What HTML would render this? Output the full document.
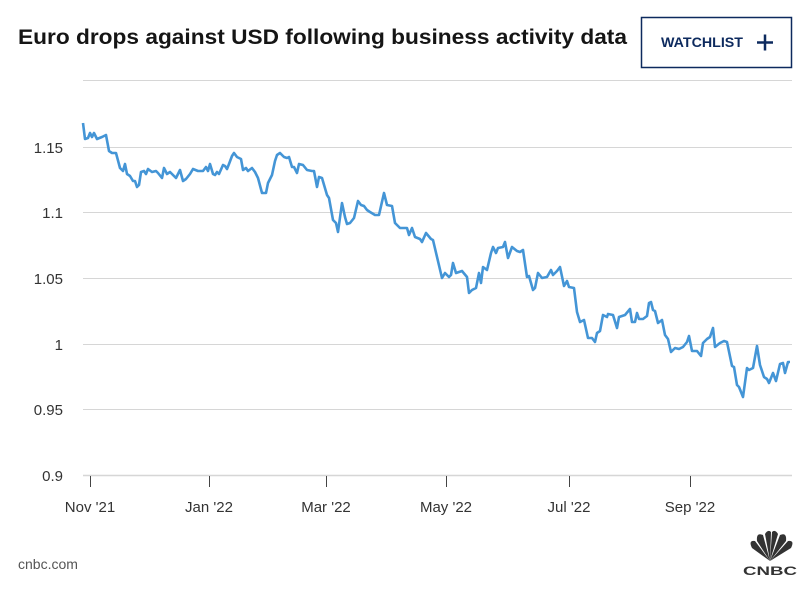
<!DOCTYPE html>
<html><head><meta charset="utf-8"><style>
html,body{margin:0;padding:0;background:#fff;}
svg{display:block;font-family:"Liberation Sans",sans-serif;}
</style></head><body>
<svg width="812" height="594" viewBox="0 0 812 594" xmlns="http://www.w3.org/2000/svg">
<text x="18" y="44" font-size="21" font-weight="bold" fill="#151515" textLength="609" lengthAdjust="spacingAndGlyphs">Euro drops against USD following business activity data</text>
<rect x="641.5" y="17.5" width="150" height="50" fill="#fff" stroke="#0d2a5e" stroke-width="1.5"/>
<text x="661" y="47" font-size="14" font-weight="bold" fill="#0d2a5e" textLength="82" lengthAdjust="spacingAndGlyphs">WATCHLIST</text>
<path d="M757 42.5h16M765 34.5v16" stroke="#0d2a5e" stroke-width="2.5"/>
<g stroke="#d6d6d6" stroke-width="1">
<line x1="83" x2="792" y1="80.5" y2="80.5"/>
<line x1="83" x2="792" y1="147.5" y2="147.5"/>
<line x1="83" x2="792" y1="212.5" y2="212.5"/>
<line x1="83" x2="792" y1="278.5" y2="278.5"/>
<line x1="83" x2="792" y1="344.5" y2="344.5"/>
<line x1="83" x2="792" y1="409.5" y2="409.5"/>
<line x1="83" x2="792" y1="475.5" y2="475.5" stroke-width="1.5"/>
</g>
<g stroke="#444" stroke-width="1">
<line x1="90.5" x2="90.5" y1="476" y2="487"/>
<line x1="209.5" x2="209.5" y1="476" y2="487"/>
<line x1="326.5" x2="326.5" y1="476" y2="487"/>
<line x1="446.5" x2="446.5" y1="476" y2="487"/>
<line x1="569.5" x2="569.5" y1="476" y2="487"/>
<line x1="690.5" x2="690.5" y1="476" y2="487"/>
</g>
<g font-size="15" fill="#333" text-anchor="end">
<text x="63" y="153">1.15</text>
<text x="63" y="218">1.1</text>
<text x="63" y="284">1.05</text>
<text x="63" y="350">1</text>
<text x="63" y="415">0.95</text>
<text x="63" y="481">0.9</text>
</g>
<g font-size="15" fill="#333" text-anchor="middle">
<text x="90" y="512">Nov '21</text>
<text x="209" y="512">Jan '22</text>
<text x="326" y="512">Mar '22</text>
<text x="446" y="512">May '22</text>
<text x="569" y="512">Jul '22</text>
<text x="690" y="512">Sep '22</text>
</g>
<polyline fill="none" stroke="#4495d6" stroke-width="2.6" stroke-linejoin="round" points="83,123 85,139 88,138 90,133 92,137 94,133 97,139 102,137 106,135 109,151 112,153 116,153 120,168 123,171 125,164 127,174 130,176 133,181 135,181 137,187 139,185 141,172 144,171 146,174 148,169 152,172 156,171 158,173 162,178 164,168 167,174 170,172 176,178 180,170 183,181 186,179 190,174 193,169 198,171 203,171 206,167 208,171 210,164 213,174 215,175 217,172 219,174 223,165 225,166 227,169 229,164 232,156 234,153 237,157 241,159 243,170 246,168 248,171 252,168 255,172 258,178 262,193 266,193 268,183 272,175 275,161 277,155 280,153 284,157 287,158 289,157 292,167 294,167 297,173 299,164 303,165 307,170 312,171 314,171 317,187 319,177 322,178 327,195 329,198 333,220 336,223 338,232 342,203 345,217 347,224 350,223 354,218 358,201 361,205 364,206 367,210 370,212 375,215 379,215 384,193 387,205 392,206 395,223 400,228 407,228 409,235 412,228 415,237 420,239 422,242 426,233 431,239 433,240 442,278 445,273 449,277 451,275 453,263 456,273 462,271 467,277 469,293 472,290 476,288 479,273 481,283 483,267 487,270 491,253 493,247 496,253 498,248 503,247 505,242 508,258 512,247 517,251 520,252 523,250 527,277 529,276 533,290 535,288 538,273 542,278 547,277 551,270 553,275 557,271 560,267 564,286 567,281 569,287 574,288 577,312 580,322 584,320 588,338 592,338 595,342 597,333 600,331 603,315 607,317 608,314 613,315 617,328 619,317 625,315 630,309 632,322 635,322 637,313 639,319 643,319 647,316 649,303 651,302 653,310 655,311 658,323 662,320 665,335 668,339 671,352 675,348 679,349 683,347 687,342 689,336 692,351 697,351 701,356 703,343 707,339 710,337 713,328 715,347 720,343 724,341 727,342 732,366 734,367 737,385 739,387 743,397 747,368 749,370 753,368 757,346 760,365 764,377 767,379 769,383 773,373 776,381 780,364 783,363 785,373 788,362 790,362"/>
<text x="18" y="569" font-size="14" fill="#555">cnbc.com</text>
<g fill="#333">
<path d="M770 561 L752 548 Q748 540 755 541 Z"/>
<path d="M770 561 L757 541 Q756 532 763 535 Z"/>
<path d="M770 561 L765 534 Q768 529 771 532 Z"/>
<path d="M770 561 L772 532 Q775 529 778 534 Z"/>
<path d="M770 561 L780 535 Q787 532 786 541 Z"/>
<path d="M770 561 L788 541 Q795 540 791 548 Z"/>
<text x="770" y="575" font-size="12" font-weight="bold" text-anchor="middle" textLength="54" lengthAdjust="spacingAndGlyphs">CNBC</text>
</g>
</svg>
</body></html>
